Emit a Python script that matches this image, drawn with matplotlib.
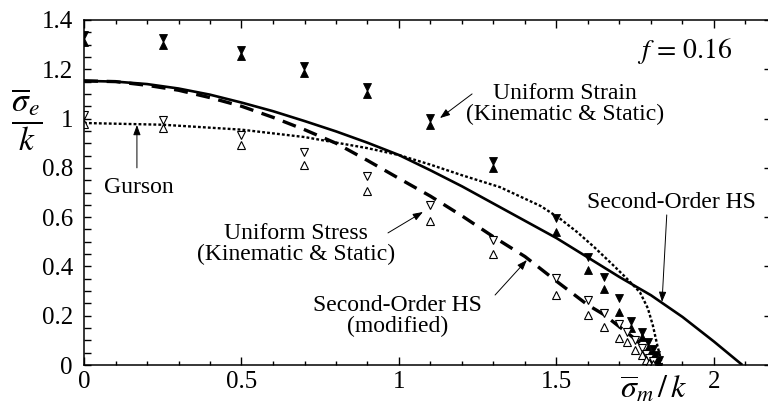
"""Yield surfaces for a porous material, f = 0.16 (sigma_e/k vs sigma_m/k)."""

import matplotlib

matplotlib.use("Agg")
import matplotlib.pyplot as plt  # noqa: E402
from matplotlib.ticker import FixedLocator, MultipleLocator  # noqa: E402

plt.rcParams["font.family"] = ["Liberation Serif", "DejaVu Serif"]
plt.rcParams["mathtext.fontset"] = "stix"

# second-order HS (solid)
hs_x = [0, 0.1, 0.2, 0.3, 0.4, 0.5, 0.6, 0.7, 0.8, 0.9, 1.0, 1.1, 1.2, 1.3, 1.4, 1.5,
        1.6, 1.7, 1.8, 1.9, 2.0, 2.09]
hs_y = [1.153, 1.15, 1.14, 1.122, 1.097, 1.065, 1.03, 0.99, 0.948, 0.902, 0.852, 0.79, 0.725,
        0.655, 0.585, 0.515, 0.436, 0.357, 0.283, 0.195, 0.095, 0.0]

# second-order HS, modified (dashed)
hsm_x = [0, 0.1, 0.2, 0.3, 0.4, 0.5, 0.6, 0.7, 0.8, 0.9, 1.0, 1.1, 1.2, 1.3, 1.4, 1.5,
         1.6, 1.65, 1.7, 1.75, 1.8, 1.82]
hsm_y = [1.153, 1.15, 1.135, 1.115, 1.085, 1.05, 1.005, 0.955, 0.9, 0.83, 0.757, 0.685, 0.605,
         0.52, 0.44, 0.34, 0.243, 0.205, 0.155, 0.105, 0.045, 0.0]

# Gurson (dotted)
gur_x = [0, 0.25, 0.5, 0.7, 0.9, 1.0, 1.1, 1.2, 1.32, 1.45, 1.51, 1.565, 1.62, 1.68, 1.72,
         1.765, 1.79, 1.806, 1.82, 1.83, 1.835]
gur_y = [0.982, 0.975, 0.955, 0.925, 0.88, 0.852, 0.813, 0.77, 0.722, 0.645, 0.595, 0.54, 0.478,
         0.405, 0.355, 0.295, 0.23, 0.16, 0.08, 0.03, 0.0]

# uniform strain (filled hourglass: down triangle above, up triangle below)
strain_x = [0, 0.25, 0.5, 0.7, 0.9, 1.1, 1.3, 1.5, 1.6, 1.65, 1.7, 1.735, 1.77, 1.79, 1.805, 1.815, 1.825]
strain_hi = [1.339, 1.325, 1.28, 1.214, 1.127, 1.001, 0.826, 0.596, 0.44, 0.357, 0.272, 0.18,
             0.134, 0.095, 0.065, 0.04, 0.02]
strain_lo = [1.311, 1.297, 1.252, 1.186, 1.099, 0.973, 0.798, 0.54, 0.386, 0.308, 0.215, 0.15,
             0.114, 0.07, 0.045, 0.02, 0.005]

# uniform stress (open hourglass)
stress_x = [0, 0.25, 0.5, 0.7, 0.9, 1.1, 1.3, 1.5, 1.6, 1.65, 1.7, 1.725, 1.75, 1.77, 1.785, 1.795, 1.805]
stress_hi = [1.013, 0.994, 0.933, 0.865, 0.767, 0.649, 0.507, 0.353, 0.264, 0.211, 0.166, 0.134,
             0.10, 0.07, 0.045, 0.03, 0.015]
stress_lo = [0.98, 0.962, 0.893, 0.812, 0.706, 0.585, 0.45, 0.284, 0.203, 0.154, 0.11, 0.093,
             0.06, 0.04, 0.02, 0.01, 0.005]

xticks = [0, 0.5, 1, 1.5, 2]
xticklabels = ["0", "0.5", "1", "1.5", "2"]
yticks = [0, 0.2, 0.4, 0.6, 0.8, 1.0, 1.2, 1.4]
yticklabels = ["0", "0.2", "0.4", "0.6", "0.8", "1", "1.2", "1.4"]

fig = plt.figure(figsize=(7.68, 4.12), dpi=100)
ax = fig.add_axes([84 / 768, 47 / 412, 2.18 * 315 / 768, 345 / 412])

ax.plot(hs_x, hs_y, color="k", lw=1.9, solid_capstyle="butt")
ax.plot(hsm_x, hsm_y, color="k", lw=2.4, linestyle=(0, (4.2, 2.6)), dash_capstyle="butt")
ax.plot(gur_x, gur_y, color="k", lw=1.7, linestyle=(0, (1.2, 0.9)))

ms = 6.2
ax.plot(strain_x, strain_hi, "v", ms=ms, color="k", mew=0.6)
ax.plot(strain_x, strain_lo, "^", ms=ms, color="k", mew=0.6)
ax.plot(stress_x, stress_hi, "v", ms=ms, mfc="white", mec="k", mew=0.8)
ax.plot(stress_x, stress_lo, "^", ms=ms, mfc="white", mec="k", mew=0.8)

ax.set_xlim(0, 2.18)
ax.set_ylim(0, 1.4)
ax.xaxis.set_major_locator(FixedLocator(xticks))
ax.set_xticklabels(xticklabels)
ax.xaxis.set_minor_locator(MultipleLocator(0.1))
ax.yaxis.set_major_locator(FixedLocator(yticks))
ax.set_yticklabels(yticklabels)
ax.yaxis.set_minor_locator(MultipleLocator(0.05))

ax.tick_params(which="both", direction="in", top=True, right=True, width=1.0, labelsize=18)
ax.tick_params(axis="x", which="major", length=6, pad=4)
ax.tick_params(axis="x", which="minor", length=2.8)
ax.tick_params(axis="y", which="major", length=5, pad=8)
ax.tick_params(axis="y", which="minor", length=5, right=False)
for spine in ax.spines.values():
    spine.set_linewidth(1.1)

# axis labels as free text, like the original
fig.text(27 / 768, 1 - 120 / 412, r"$\dfrac{\overline{\sigma}_e}{k}$", fontsize=24,
         ha="center", va="center")
fig.text(654 / 768, 1 - 390 / 412, r"$\overline{\sigma}_m\,/\,k$", fontsize=23,
         ha="center", va="center")

ax.text(1.755, 1.246, r"$f\,=\,0.16$", fontsize=20, ha="left", va="baseline")

arrow = dict(arrowstyle="-|>,head_length=0.6,head_width=0.22", color="k", lw=0.7,
             shrinkA=0, shrinkB=0)
txt = dict(fontsize=17, ha="center", va="baseline", multialignment="center", linespacing=1.0)

# va="baseline" on two-line text sets the baseline of the last line
ax.text(1.527, 0.994, "Uniform Strain\n(Kinematic & Static)", **txt)
ax.annotate("", xy=(1.13, 1.002), xytext=(1.232, 1.10), arrowprops=arrow)

ax.text(0.175, 0.698, "Gurson", **txt)
ax.annotate("", xy=(0.168, 0.974), xytext=(0.168, 0.80), arrowprops=arrow)

ax.text(0.673, 0.426, "Uniform Stress\n(Kinematic & Static)", **txt)
ax.annotate("", xy=(1.076, 0.621), xytext=(0.965, 0.536), arrowprops=arrow)

ax.text(0.995, 0.134, "Second-Order HS\n(modified)", **txt)
ax.annotate("", xy=(1.406, 0.426), xytext=(1.305, 0.284), arrowprops=arrow)

ax.text(1.864, 0.637, "Second-Order HS", **txt)
ax.annotate("", xy=(1.835, 0.256), xytext=(1.85, 0.609), arrowprops=arrow)

fig.savefig("out.png", dpi=100)
